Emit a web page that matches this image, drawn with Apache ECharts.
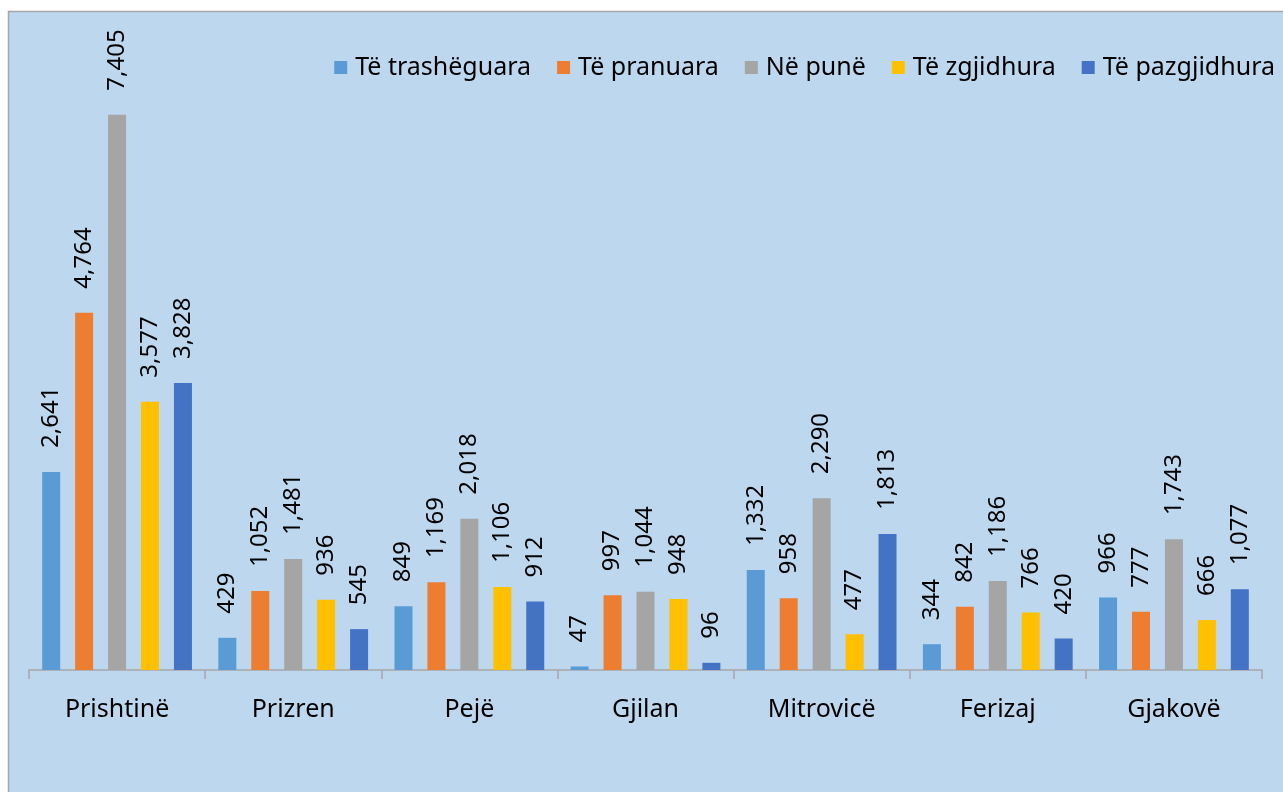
<!DOCTYPE html>
<html>
<head>
<meta charset="utf-8">
<script src="https://cdn.jsdelivr.net/npm/echarts@6/dist/echarts.min.js"></script>
<style>
  html, body { margin: 0; padding: 0; background: #ffffff; }
  #chart { width: 1283px; height: 792px; }
</style>
</head>
<body>
<div id="chart"></div>
<script>
// Regions (categories)
const regions = ['Prishtinë', 'Prizren', 'Pejë', 'Gjilan', 'Mitrovicë', 'Ferizaj', 'Gjakovë'];

// Case counts per region
const teTrasheguara  = [2641, 429, 849, 47, 1332, 344, 966];
const tePranuara     = [4764, 1052, 1169, 997, 958, 842, 777];
const nePune         = [7405, 1481, 2018, 1044, 2290, 1186, 1743];
const teZgjidhura    = [3577, 936, 1106, 948, 477, 766, 666];
const tePazgjidhura  = [3828, 545, 912, 96, 1813, 420, 1077];

const seriesNames = ['Të trashëguara', 'Të pranuara', 'Në punë', 'Të zgjidhura', 'Të pazgjidhura'];
const seriesData = [teTrasheguara, tePranuara, nePune, teZgjidhura, tePazgjidhura];
const seriesColors = ['#5B9BD5', '#ED7D31', '#A5A5A5', '#FFC000', '#4472C4'];

const FONT = 'Noto Sans';

const chart = echarts.init(document.getElementById('chart'), null, { renderer: 'canvas' });

const series = seriesNames.map((name, i) => ({
  name: name,
  type: 'bar',
  data: seriesData[i],
  barWidth: 18,
  barGap: '83%',
  itemStyle: { color: seriesColors[i] },
  label: {
    show: true,
    position: 'top',
    rotate: 90,
    align: 'left',
    verticalAlign: 'middle',
    distance: 24,
    color: '#000000',
    fontFamily: FONT,
    fontSize: 24,
    formatter: p => p.value.toLocaleString('en-US')
  }
}));

chart.setOption({
  backgroundColor: '#ffffff',
  animation: false,
  graphic: [{
    type: 'rect',
    z: -10,
    silent: true,
    shape: { x: 8.5, y: 11.5, width: 1300, height: 800 },
    style: { fill: '#BDD7EE', stroke: '#A6A6A6', lineWidth: 1.5 }
  }],
  legend: {
    top: 50,
    right: 3,
    itemWidth: 13,
    itemHeight: 13,
    itemGap: 26,
    icon: 'rect',
    textStyle: { fontFamily: FONT, fontSize: 25, color: '#000000', padding: [0, 0, 0, 3] },
    data: seriesNames
  },
  grid: { left: 29, right: 21, top: 70, bottom: 122, containLabel: false },
  xAxis: {
    type: 'category',
    data: regions,
    axisLine: { show: true, lineStyle: { color: '#A6A6A6', width: 1.5 } },
    axisTick: { show: true, length: 9, lineStyle: { color: '#A6A6A6', width: 1.5 } },
    axisLabel: { fontFamily: FONT, fontSize: 25, color: '#000000', margin: 27 }
  },
  yAxis: {
    type: 'value',
    min: 0,
    max: 8000,
    show: false,
    splitLine: { show: false }
  },
  series: series
});
</script>
</body>
</html>
